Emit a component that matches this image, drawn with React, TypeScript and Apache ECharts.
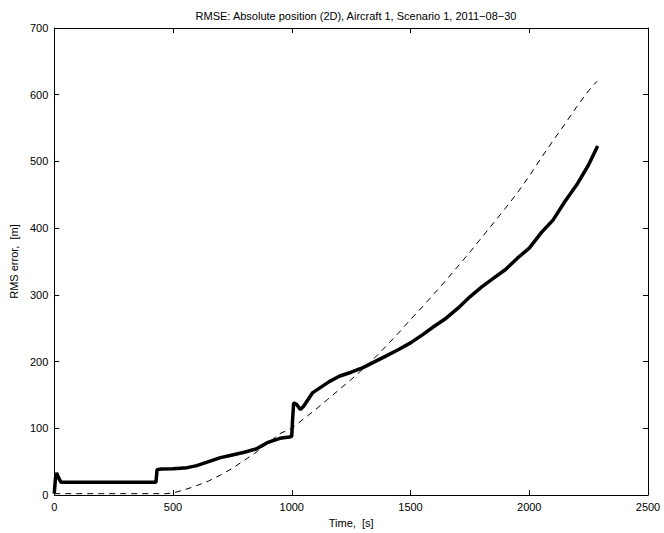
import React, { useEffect, useRef } from "react";
import * as echarts from "echarts";

const titleText = "RMSE: Absolute position (2D), Aircraft 1, Scenario 1, 2011−08−30";
const xName = "Time,  [s]";
const yName = "RMS error,  [m]";

const xTicks = [0, 500, 1000, 1500, 2000, 2500];
const yTicks = [0, 100, 200, 300, 400, 500, 600, 700];

const solidT = [0, 5, 10, 18, 28, 100, 200, 300, 400, 428, 433, 450, 500, 560, 600, 650, 700, 750, 800, 850, 900, 950, 990, 1000, 1003, 1008, 1020, 1036, 1050, 1087, 1120, 1158, 1200, 1250, 1300, 1350, 1400, 1450, 1500, 1550, 1600, 1650, 1700, 1750, 1800, 1850, 1900, 1950, 2000, 2050, 2100, 2150, 2200, 2250, 2288];
const solidV = [2, 25, 33, 26, 19, 19, 19, 19, 19, 19, 38, 39, 39.5, 41, 44, 50, 56, 60, 64, 69, 79, 85, 87, 88, 110, 138, 136, 128, 133, 153, 161, 170, 178, 184, 191, 200, 209, 218, 228, 240, 253, 265, 280, 297, 312, 325, 338, 355, 370, 393, 412, 440, 465, 495, 523];

const dashT = [0, 100, 200, 300, 400, 470, 500, 550, 600, 650, 700, 750, 800, 850, 900, 950, 1000, 1050, 1100, 1150, 1200, 1250, 1300, 1350, 1400, 1450, 1500, 1550, 1600, 1650, 1700, 1750, 1800, 1850, 1900, 1950, 2000, 2050, 2100, 2150, 2200, 2250, 2285];
const dashV = [2, 2, 2, 2, 2, 2, 3, 8, 14, 21, 30, 40, 52, 64, 78, 92, 100, 114, 128, 143, 158, 173, 189, 206, 224, 243, 263, 282, 302, 322, 343, 364, 386, 408, 430, 453, 478, 505, 531, 556, 582, 606, 620];

const FONT = "Liberation Sans, Arial, Helvetica, sans-serif";

export default function App() {
  const ref = useRef<HTMLDivElement>(null);
  useEffect(() => {
    if (!ref.current) return;
    const chart = echarts.init(ref.current, undefined, { renderer: "svg" });
    const solid = solidT.map((t, i) => [t, solidV[i]]);
    const dash = dashT.map((t, i) => [t, dashV[i]]);
    const axisCommon = {
      type: "value" as const,
      axisLine: { show: true, onZero: false, lineStyle: { color: "#000", width: 1 } },
      axisTick: { show: true, inside: true, length: 5, lineStyle: { color: "#000", width: 1 } },
      splitLine: { show: false },
    };
    chart.setOption({
      animation: false,
      backgroundColor: "#fff",
      title: {
        text: titleText,
        left: 351,
        textAlign: "center",
        top: 5,
        textStyle: { fontFamily: FONT, fontSize: 11, fontWeight: "normal", color: "#000" },
      },
      grid: { left: 54, right: 16, top: 28, bottom: 38, containLabel: false },
      xAxis: [
        {
          ...axisCommon,
          position: "bottom",
          min: 0,
          max: 2500,
          interval: 500,
          name: xName,
          nameLocation: "middle",
          nameGap: 22,
          nameTextStyle: { fontFamily: FONT, fontSize: 11, color: "#000" },
          axisLabel: {
            show: true,
            margin: 6,
            fontFamily: FONT,
            fontSize: 11,
            color: "#000",
            formatter: (v: number) => (xTicks.includes(v) ? String(v) : ""),
          },
        },
        {
          ...axisCommon,
          position: "top",
          min: 0,
          max: 2500,
          interval: 500,
          axisLabel: { show: false },
        },
      ],
      yAxis: [
        {
          ...axisCommon,
          position: "left",
          min: 0,
          max: 700,
          interval: 100,
          name: yName,
          nameLocation: "middle",
          nameGap: 32,
          nameTextStyle: { fontFamily: FONT, fontSize: 11, color: "#000" },
          axisLabel: {
            show: true,
            margin: 6,
            fontFamily: FONT,
            fontSize: 11,
            color: "#000",
            formatter: (v: number) => (yTicks.includes(v) ? String(v) : ""),
          },
        },
        {
          ...axisCommon,
          position: "right",
          min: 0,
          max: 700,
          interval: 100,
          axisLabel: { show: false },
        },
      ],
      series: [
        {
          type: "line",
          data: dash,
          xAxisIndex: 0,
          yAxisIndex: 0,
          showSymbol: false,
          symbol: "none",
          lineStyle: { color: "#000", width: 1, type: [6, 5] },
          z: 2,
        },
        {
          type: "line",
          data: solid,
          xAxisIndex: 0,
          yAxisIndex: 0,
          showSymbol: false,
          symbol: "none",
          lineStyle: { color: "#000", width: 3.5 },
          z: 3,
        },
      ],
    });
    return () => chart.dispose();
  }, []);
  return (
    <div
      ref={ref}
      style={{ position: "fixed", left: 0, top: 0, width: 664, height: 533, background: "#fff" }}
    />
  );
}
